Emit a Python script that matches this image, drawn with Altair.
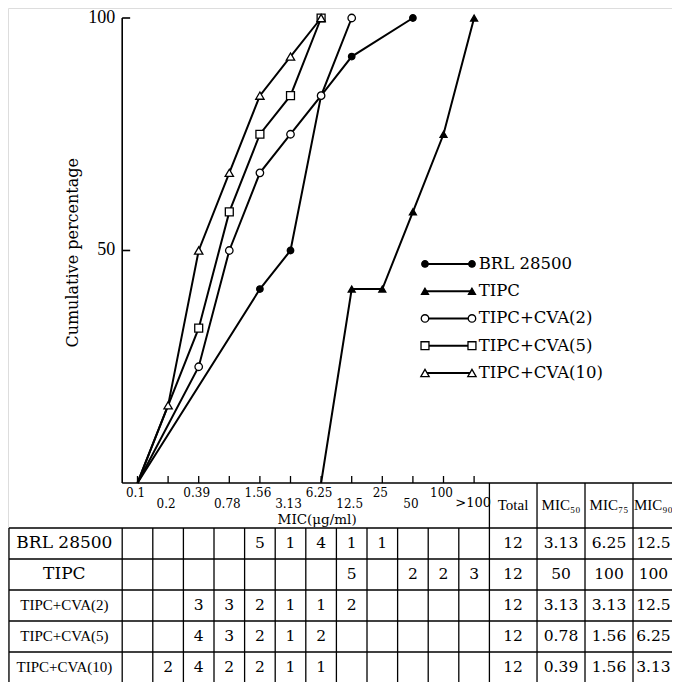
import altair as alt
import pandas as pd

# ---------------- data ----------------
mic_labels = ["0.1", "0.2", "0.39", "0.78", "1.56", "3.13", "6.25",
              "12.5", "25", "50", "100", ">100"]
series_names = ["BRL 28500", "TIPC", "TIPC+CVA(2)", "TIPC+CVA(5)", "TIPC+CVA(10)"]

# cumulative percentage curves as drawn (MIC value, %)
brl_mic = ["0.1", "1.56", "3.13", "6.25", "12.5", "50"]
brl_pct = [0, 41.7, 50, 83.3, 91.7, 100]
tipc_mic = ["6.25", "12.5", "25", "50", "100", ">100"]
tipc_pct = [0, 41.7, 41.7, 58.3, 75, 100]
cva2_mic = ["0.1", "0.39", "0.78", "1.56", "3.13", "6.25", "12.5"]
cva2_pct = [0, 25, 50, 66.7, 75, 83.3, 100]
cva5_mic = ["0.1", "0.39", "0.78", "1.56", "3.13", "6.25"]
cva5_pct = [0, 33.3, 58.3, 75, 83.3, 100]
cva10_mic = ["0.1", "0.2", "0.39", "0.78", "1.56", "3.13", "6.25"]
cva10_pct = [0, 16.7, 50, 66.7, 83.3, 91.7, 100]

y_ticks = [50, 100]

# table counts per MIC column
brl_counts = [None, None, None, None, 5, 1, 4, 1, 1, None, None, None]
tipc_counts = [None, None, None, None, None, None, None, 5, None, 2, 2, 3]
cva2_counts = [None, None, 3, 3, 2, 1, 1, 2, None, None, None, None]
cva5_counts = [None, None, 4, 3, 2, 1, 2, None, None, None, None, None]
cva10_counts = [None, 2, 4, 2, 2, 1, 1, None, None, None, None, None]

summary_headers = ["Total", "MIC\u2085\u2080", "MIC\u2087\u2085", "MIC\u2089\u2080"]
totals = ["12", "12", "12", "12", "12"]
mic50 = ["3.13", "50", "3.13", "0.78", "0.39"]
mic75 = ["6.25", "100", "3.13", "1.56", "1.56"]
mic90 = ["12.5", "100", "12.5", "6.25", "3.13"]

# ---------------- layout scales ----------------
X_MIN, X_MAX = -4.232, 17.467          # column units
P_MIN, P_MAX = -42.80, 102.15          # percent units (plot)
R_MIN, R_MAX = -16.774, 4.968          # row units (table)
LEFT = -4.20
SUM_EDGES = [11.5, 13.056, 14.624, 16.193]
SUM_CENTERS = [12.271, 13.84, 15.408, 16.86]
HEADER_TOP = -1.452

def xq(f):
    return alt.X(f, type="quantitative",
                 scale=alt.Scale(domain=[X_MIN, X_MAX], nice=False, zero=False), axis=None)

def yp(f):
    return alt.Y(f, type="quantitative",
                 scale=alt.Scale(domain=[P_MIN, P_MAX], nice=False, zero=False), axis=None)

def yr(f):
    return alt.Y(f, type="quantitative",
                 scale=alt.Scale(domain=[R_MIN, R_MAX], nice=False, zero=False, reverse=True),
                 axis=None)

idx = {m: i for i, m in enumerate(mic_labels)}

# ---------------- frames ----------------
curve_rows = []
for name, mics, pcts in [(series_names[0], brl_mic, brl_pct),
                         (series_names[1], tipc_mic, tipc_pct),
                         (series_names[2], cva2_mic, cva2_pct),
                         (series_names[3], cva5_mic, cva5_pct),
                         (series_names[4], cva10_mic, cva10_pct)]:
    for m, p in zip(mics, pcts):
        curve_rows.append({"series": name, "xi": idx[m], "pct": p})
curves = pd.DataFrame(curve_rows)
points = curves[curves["pct"] > 0]

shape_scale = alt.Scale(domain=series_names,
                        range=["circle", "triangle-up", "circle", "square", "triangle-up"])
fill_scale = alt.Scale(domain=series_names,
                       range=["black", "black", "white", "white", "white"])
size_scale = alt.Scale(domain=series_names, range=[42, 70, 42, 55, 70])

def marker_enc(xf, yf, yfun):
    return dict(x=xq(xf), y=yfun(yf),
                shape=alt.Shape("series:N", scale=shape_scale, legend=None),
                fill=alt.Fill("series:N", scale=fill_scale, legend=None),
                size=alt.Size("series:N", scale=size_scale, legend=None))

layers = []

# axes (plot units)
yaxis = pd.DataFrame({"x": [-0.5], "y": [0], "y2": [100]})
layers.append(alt.Chart(yaxis).mark_rule(color="black", strokeWidth=1.6)
              .encode(x=xq("x"), y=yp("y"), y2="y2"))
ytk = pd.DataFrame({"x": -0.5, "x2": -0.24, "y": y_ticks})
layers.append(alt.Chart(ytk).mark_rule(color="black", strokeWidth=1.6)
              .encode(x=xq("x"), x2="x2", y=yp("y")))
ytl = pd.DataFrame({"x": -0.73, "y": y_ticks, "lab": [str(v) for v in y_ticks]})
layers.append(alt.Chart(ytl).mark_text(align="right", baseline="middle", font="Liberation Serif",
                                       fontSize=18, color="black")
              .encode(x=xq("x"), y=yp("y"), text="lab"))
ytitle = pd.DataFrame({"x": [-2.11], "y": [49.5], "lab": ["Cumulative percentage"]})
layers.append(alt.Chart(ytitle).mark_text(angle=270, align="center", baseline="middle",
                                          font="DejaVu Serif", fontSize=16, color="black")
              .encode(x=xq("x"), y=yp("y"), text="lab"))

xaxis = pd.DataFrame({"x": [-0.5], "x2": [X_MAX], "y": [0]})
layers.append(alt.Chart(xaxis).mark_rule(color="black", strokeWidth=1.6)
              .encode(x=xq("x"), x2="x2", y=yp("y")))
xtk = pd.DataFrame({"x": list(range(len(mic_labels))), "y": 0, "y2": 1.5})
layers.append(alt.Chart(xtk).mark_rule(color="black", strokeWidth=1.3)
              .encode(x=xq("x"), y=yp("y"), y2="y2"))
xl = pd.DataFrame({"x": list(range(len(mic_labels) - 1)),
                   "lab": mic_labels[:-1]})
xl["y"] = [-2.05 if i % 2 == 0 else -4.55 for i in xl["x"]]
layers.append(alt.Chart(xl).mark_text(align="center", baseline="middle", dx=-2,
                                      font="DejaVu Serif", fontSize=12, color="black")
              .encode(x=xq("x"), y=yp("y"), text="lab"))
xl_last = pd.DataFrame({"x": [len(mic_labels) - 1], "y": [-4.2], "lab": [mic_labels[-1]]})
layers.append(alt.Chart(xl_last).mark_text(align="center", baseline="middle", dx=-1,
                                           font="DejaVu Serif", fontSize=13, color="black")
              .encode(x=xq("x"), y=yp("y"), text="lab"))
xtitle = pd.DataFrame({"x": [5.87], "y": [-7.95], "lab": ["MIC(\u03bcg/ml)"]})
layers.append(alt.Chart(xtitle).mark_text(align="center", baseline="middle", font="DejaVu Serif",
                                          fontSize=13.5, color="black")
              .encode(x=xq("x"), y=yp("y"), text="lab"))

# curves
layers.append(alt.Chart(curves).mark_line(color="black", strokeWidth=2)
              .encode(x=xq("xi"), y=yp("pct"), detail="series:N"))
layers.append(alt.Chart(points).mark_point(filled=True, stroke="black", strokeWidth=1.3, opacity=1)
              .encode(**marker_enc("xi", "pct", yp)))

# legend
leg = pd.DataFrame({"series": series_names, "k": list(range(len(series_names)))})
leg["y"] = 47.1 - 5.86 * leg["k"]
leg["x1"] = 9.395
leg["x2"] = 10.93
leg["xt"] = 11.15
layers.append(alt.Chart(leg).mark_rule(color="black", strokeWidth=2)
              .encode(x=xq("x1"), x2="x2", y=yp("y")))
legm = pd.concat([leg.assign(xm=leg["x1"]), leg.assign(xm=leg["x2"])])
layers.append(alt.Chart(legm).mark_point(filled=True, stroke="black", strokeWidth=1.3, opacity=1)
              .encode(**marker_enc("xm", "y", yp)))
layers.append(alt.Chart(leg).mark_text(align="left", baseline="middle", font="DejaVu Serif",
                                       fontSize=16.5, color="black")
              .encode(x=xq("xt"), y=yp("y"), text="series"))

# ---------------- table (row units) ----------------
hl = pd.DataFrame({"y": list(range(6)), "x": LEFT, "x2": X_MAX})
layers.append(alt.Chart(hl).mark_rule(color="black", strokeWidth=1.3)
              .encode(x=xq("x"), x2="x2", y=yr("y")))
vb = pd.DataFrame({"x": [LEFT, -0.5] + [c + 0.5 for c in range(11)], "y": 0, "y2": 5})
layers.append(alt.Chart(vb).mark_rule(color="black", strokeWidth=1.3)
              .encode(x=xq("x"), y=yr("y"), y2="y2"))
vs = pd.DataFrame({"x": SUM_EDGES, "y": HEADER_TOP, "y2": 5})
layers.append(alt.Chart(vs).mark_rule(color="black", strokeWidth=1.3)
              .encode(x=xq("x"), y=yr("y"), y2="y2"))

big_lab = pd.DataFrame({"x": -2.39, "y": [0.5, 1.5], "lab": series_names[:2]})
layers.append(alt.Chart(big_lab).mark_text(align="center", baseline="middle", font="DejaVu Serif",
                                           fontSize=17, color="black")
              .encode(x=xq("x"), y=yr("y"), text="lab"))
small_lab = pd.DataFrame({"x": -2.39, "y": [2.5, 3.5, 4.5], "lab": series_names[2:]})
layers.append(alt.Chart(small_lab).mark_text(align="center", baseline="middle",
                                             font="Liberation Serif", fontSize=15, color="black")
              .encode(x=xq("x"), y=yr("y"), text="lab"))

cell_rows = []
for r, counts in enumerate([brl_counts, tipc_counts, cva2_counts, cva5_counts, cva10_counts]):
    for c, v in enumerate(counts):
        if v is not None:
            cell_rows.append({"x": c, "y": r + 0.5, "lab": str(v)})
    for k, col in enumerate([totals, mic50, mic75, mic90]):
        cell_rows.append({"x": SUM_CENTERS[k], "y": r + 0.5, "lab": col[r]})
cells = pd.DataFrame(cell_rows)
layers.append(alt.Chart(cells).mark_text(align="center", baseline="middle", font="DejaVu Serif",
                                         fontSize=15.5, color="black")
              .encode(x=xq("x"), y=yr("y"), text="lab"))

hdr = pd.DataFrame({"x": SUM_CENTERS, "y": HEADER_TOP / 2, "lab": summary_headers})
layers.append(alt.Chart(hdr).mark_text(align="center", baseline="middle", font="Liberation Serif",
                                       fontSize=15, color="black")
              .encode(x=xq("x"), y=yr("y"), text="lab"))

chart = (alt.layer(*layers)
         .resolve_scale(y="independent")
         .properties(width=664, height=674, padding=0,
                     autosize=alt.AutoSizeParams(type="none"))
         .configure_view(stroke=None)
         .configure(background="white"))

chart.save("out.html", embed_options={"renderer": "svg", "actions": False})
